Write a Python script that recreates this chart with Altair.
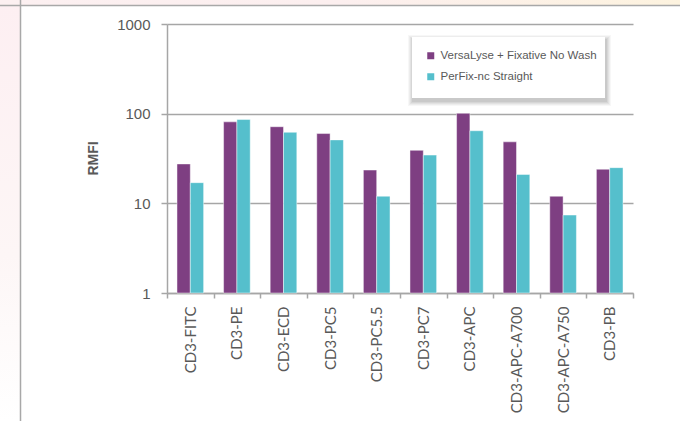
import altair as alt
import pandas as pd

# Relative MFI per CD3 conjugate, two fixation protocols (log scale)
markers = ["CD3-FITC", "CD3-PE", "CD3-ECD", "CD3-PC5", "CD3-PC5.5", "CD3-PC7",
           "CD3-APC", "CD3-APC-A700", "CD3-APC-A750", "CD3-PB"]
series_names = ["VersaLyse + Fixative No Wash", "PerFix-nc Straight"]
versalyse = [27.5, 81, 71.5, 60, 23.5, 39, 101, 48.5, 12, 24]
perfix = [17, 86, 62, 51, 12, 34.5, 64.5, 21, 7.4, 25]
series_colors = ["#7e3f82", "#55bfcc"]
y_ticks = [1, 10, 100, 1000]

rows = []
for m, a, b in zip(markers, versalyse, perfix):
    rows.append({"marker": m, "series": series_names[0], "value": a})
    rows.append({"marker": m, "series": series_names[1], "value": b})
df = pd.DataFrame(rows)

W, H = 466, 269
PAD_L, PAD_T, PAD_R, PAD_B = 167, 24, 47, 128
one = alt.Data(values=[{}])
GRID = "#a6a6a6"
TXT = "#595959"

# Page frame: tinted strips on the top and left edges, with thin rules
top_strip = alt.Chart(one).mark_rect(
    color=alt.LinearGradient(
        gradient="linear", x1=0, x2=1, y1=0, y2=0,
        stops=[alt.GradientStop(color="#fcf0f1", offset=0),
               alt.GradientStop(color="#fcefef", offset=0.5),
               alt.GradientStop(color="#fdf3df", offset=1)])
).encode(x=alt.value(-PAD_L), x2=alt.value(W + PAD_R),
         y=alt.value(-PAD_T), y2=alt.value(-PAD_T + 5))

left_strip = alt.Chart(one).mark_rect(
    color=alt.LinearGradient(
        gradient="linear", x1=0, x2=0, y1=0, y2=1,
        stops=[alt.GradientStop(color="#fdeff2", offset=0),
               alt.GradientStop(color="#fdf6f6", offset=0.6),
               alt.GradientStop(color="#ffffff", offset=1)])
).encode(x=alt.value(-PAD_L), x2=alt.value(-PAD_L + 20),
         y=alt.value(-PAD_T + 5), y2=alt.value(H + PAD_B))

top_rule = alt.Chart(one).mark_rule(color="#a8a8a8", strokeWidth=1.5).encode(
    x=alt.value(-PAD_L), x2=alt.value(W + PAD_R), y=alt.value(-PAD_T + 5.5))
left_rule = alt.Chart(one).mark_rule(color="#a8a8a8", strokeWidth=1.5).encode(
    x=alt.value(-PAD_L + 20.5), y=alt.value(-PAD_T), y2=alt.value(H + PAD_B))

# Legend card with a soft drop shadow
LX, LY, LW, LH = 245, 13, 193, 61
shadows = []
for i, op in enumerate([0.06, 0.05, 0.045, 0.04, 0.03]):
    g = i + 1
    shadows.append(alt.Chart(one).mark_rect(color="#000000", opacity=op).encode(
        x=alt.value(LX - g + 1), x2=alt.value(LX + LW + g + 1),
        y=alt.value(LY - g + 3), y2=alt.value(LY + LH + g + 3)))
card = alt.Chart(one).mark_rect(color="#ffffff").encode(
    x=alt.value(LX), x2=alt.value(LX + LW), y=alt.value(LY), y2=alt.value(LY + LH))

bars = alt.Chart(df).mark_bar(stroke="#ffffff", strokeOpacity=0.45, strokeWidth=1).encode(
    x=alt.X("marker:N", sort=markers, title=None,
            scale=alt.Scale(paddingInner=0, paddingOuter=0),
            axis=alt.Axis(labelAngle=270, labelAlign="right", labelBaseline="middle",
                          labelFont="Lato", labelFontSize=15, labelColor=TXT,
                          labelPadding=8, tickSize=5, tickBand="extent",
                          tickColor=GRID, tickWidth=1.5, domainColor=GRID,
                          domainWidth=1.5, grid=False)),
    xOffset=alt.XOffset("series:N", sort=series_names,
                        scale=alt.Scale(domain=series_names, paddingInner=0,
                                        paddingOuter=0.75)),
    y=alt.Y("value:Q", title="RMFI",
            scale=alt.Scale(type="log", domain=[1, 1000], nice=False),
            axis=alt.Axis(values=y_ticks, format="d", labelFont="Liberation Sans",
                          labelFontSize=15, labelColor=TXT, labelPadding=11,
                          tickSize=6, tickColor=GRID, tickWidth=1.5,
                          domainColor=GRID, domainWidth=1.5,
                          grid=True, gridColor=GRID, gridWidth=1.5,
                          titleFont="Liberation Sans", titleFontSize=14,
                          titleFontWeight="bold", titleColor=TXT, titleAngle=270,
                          titleAlign="center", titleBaseline="middle",
                          titleX=-74, titleY=134)),
    y2=alt.datum(1),
    color=alt.Color("series:N", sort=series_names,
                    scale=alt.Scale(domain=series_names, range=series_colors),
                    legend=alt.Legend(title=None, orient="none", legendX=258,
                                      legendY=26, padding=0, rowPadding=8,
                                      symbolType="square", symbolSize=49,
                                      symbolStrokeWidth=0, labelOffset=4,
                                      labelFont="Liberation Sans", labelFontSize=11.5,
                                      labelColor=TXT, labelLimit=400)),
)

chart = alt.layer(
    top_strip, left_strip, top_rule, left_rule, *shadows, card, bars
).properties(
    width=W, height=H,
    autosize=alt.AutoSizeParams(type="none"),
    padding={"left": PAD_L, "top": PAD_T, "right": PAD_R, "bottom": PAD_B},
    background="#ffffff",
).configure_view(stroke=None)

chart.save("out.html", embed_options={"renderer": "svg", "actions": False})
